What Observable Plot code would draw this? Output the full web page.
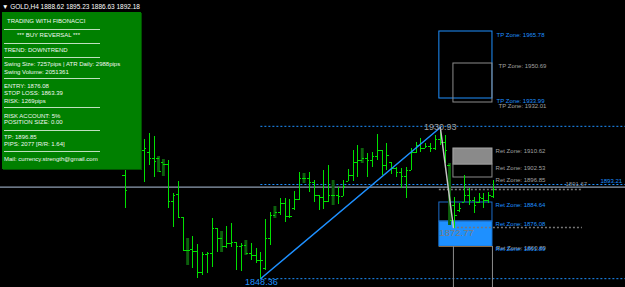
<!DOCTYPE html>
<html><head><meta charset="utf-8">
<script src="https://cdn.jsdelivr.net/npm/d3@7"></script>
<script src="https://cdn.jsdelivr.net/npm/@observablehq/plot@0.6"></script>
<style>
html,body{margin:0;padding:0;background:#000;}
#wrap{position:relative;width:625px;height:287px;overflow:hidden;background:#000;font-family:"Liberation Sans",Arial,sans-serif;}
#chart{position:absolute;left:0;top:0;}
.t{position:absolute;white-space:nowrap;font-size:6px;line-height:7px;color:#f2f8f2;transform:translateY(-50%);}
#panel{position:absolute;left:2px;top:12px;width:139px;height:157px;background:#008000;box-shadow:1px 1px 0 #005000;}
.sep{position:absolute;left:4px;width:96px;height:0;border-top:1px solid #bfe0bf;}
</style></head>
<body><div id="wrap"><div id="chart"></div></div>
<script>
// ---- data ----
const barIndex = [-4,0,1,2,3,4,5,6,7,8,9,10,11,12,13,14,15,16,17,18,19,20,21,22,23,24,25,26,27,28,29,30,31,32,33,34,35,36,37,38,39,40,41,42,43,44,45,46,47,48,49,50,51,52,53,54,55,56,57,58,59,60,61,62,63,64,65,66,67,68,69,70,71,72];
const highs = [1917.5,1923.55,1926.85,1925.2,1914.2,1912.55,1912,1893.85,1900.45,1880.65,1869.1,1870.2,1865.8,1861.4,1861.4,1880.1,1874.6,1872.95,1875.7,1877.35,1866.9,1866.35,1868,1866.35,1863.6,1861.4,1879.55,1883.4,1886.7,1891.1,1891.1,1890.55,1894.95,1905.4,1904.85,1905.4,1901,1892.75,1906.5,1909.25,1901,1897.15,1901,1907.05,1917.5,1920.25,1918.6,1915.85,1916.4,1926.3,1917.5,1921.35,1910.9,1908.15,1907.6,1908.15,1918.6,1921.9,1924.1,1921.35,1921.35,1925.75,1930.15,1925.75,1910.35,1891.65,1888.35,1903.75,1896.6,1891.65,1893.85,1893.85,1894.4,1901];
const lows = [1885.6,1899.9,1909.25,1902.65,1905.4,1903.2,1885.6,1875.15,1880.1,1862.5,1854.25,1852.6,1847.1,1848.75,1849.85,1853.15,1861.4,1861.4,1863.6,1864.15,1851.5,1850.95,1859.75,1857,1855.35,1847.1,1851.5,1865.25,1880.1,1881.75,1877.9,1880.1,1884.5,1890,1899.35,1894.4,1888.9,1884.5,1885.05,1888.9,1887.25,1887.8,1892.2,1900.45,1900.45,1902.65,1910.35,1902.65,1908.15,1912,1903.75,1906.5,1904.3,1902.65,1896.6,1891.1,1906.5,1915.85,1916.4,1918.6,1916.4,1917.5,1920.25,1910.35,1876.25,1874.6,1883.4,1888.9,1887.25,1882.85,1888.35,1885.6,1888.35,1891.1];
const opens = [1903.75,1917.5,1916.4,1913.1,1913.1,1910.9,1909.8,1889.45,1893.3,1880.65,1862.5,1863.05,1861.95,1850.4,1860.3,1860.85,1874.6,1869.1,1864.7,1866.35,1866.9,1864.7,1865.25,1860.85,1859.75,1857,1852.6,1869.1,1881.75,1883.4,1888.35,1881.2,1885.6,1890.55,1902.1,1902.1,1899.9,1892.75,1891.65,1889.45,1892.75,1892.75,1892.2,1900.45,1903.75,1910.9,1912,1913.1,1912,1914.2,1917.5,1909.25,1910.9,1907.6,1905.4,1903.2,1906.5,1916.4,1920.25,1918.6,1919.7,1918.6,1923.55,1921.9,1909.25,1887.25,1884.5,1888.9,1892.75,1890,1888.9,1891.1,1890,1892.2];
const closes = [1895.5,1918.6,1913.1,1911.45,1905.95,1909.8,1889.45,1892.75,1880.65,1862.5,1862.5,1861.95,1850.4,1860.3,1860.85,1874.6,1869.1,1864.7,1866.35,1866.9,1864.7,1865.25,1860.85,1859.75,1857,1857,1869.1,1881.75,1883.4,1888.35,1881.2,1881.2,1890.55,1902.1,1902.1,1899.9,1892.75,1891.65,1889.45,1892.75,1892.75,1892.2,1897.7,1903.75,1910.9,1912,1913.1,1912,1914.2,1917.5,1909.25,1914.75,1907.6,1905.4,1903.2,1906.5,1916.4,1920.25,1918.6,1919.7,1918.6,1923.55,1921.9,1917.5,1879,1881.75,1885.6,1892.75,1890,1887.25,1891.65,1890,1892.75,1896.05];
const darkBars = [3,4,9,16,21,27,33,39,45,63];

// fibonacci swing (bar index, price)
const fibX = [24, 61];
const fibY = [1847.1, 1930.15];
const retraceX = [61, 63.7];
const retraceY = [1930.15, 1875.15];

// zone boxes
const outlineBoxX1 = [60.8, 63.7, 63.7, 60.8];
const outlineBoxX2 = [71.75, 71.75, 71.75, 71.75];
const outlineBoxTop = [1982.95, 1965.35, 1909.8, 1888.9];
const outlineBoxBottom = [1946.1, 1943.9, 1902.65, 1878.45];
const outlineBoxColor = ["#1e90ff", "#8c8c8c", "#8c8c8c", "#1c6cc8"];
const filledBoxX1 = [63.7, 60.8];
const filledBoxX2 = [71.75, 71.75];
const filledBoxTop = [1918.6, 1878.45];
const filledBoxBottom = [1909.8, 1864.7];
const filledBoxFill = ["#8a8a8a", "#1e90ff"];
const filledBoxStroke = ["#a8a8a8", "#1a78d8"];

// zone labels
const zoneLabelText = ["TP Zone: 1965.78","TP Zone: 1933.99","TP Zone: 1950.69","TP Zone: 1932.01","Ret Zone: 1910.62","Ret Zone: 1902.53","Ret Zone: 1896.85","Ret Zone: 1860.89","Ret Zone: 1884.64","Ret Zone: 1876.08","Ret Zone: 1861.89"];
const zoneLabelX = [72.6,72.6,73.0,73.0,72.4,72.4,72.4,72.5,72.4,72.4,72.4];
const zoneLabelY = [1980.75,1944.45,1963.7,1941.7,1916.95,1907.6,1901,1863.6,1887.25,1876.8,1863.05];
const zoneLabelColor = ["#1e90ff","#1e90ff","#a0a0a0","#a0a0a0","#a0a0a0","#a0a0a0","#a0a0a0","#a0a0a0","#1e90ff","#1e90ff","#1e90ff"];

// horizontal levels
const blueLevels = [1930.8, 1898.8, 1847];
const bidLevel = 1897.4;
const grayDotLevels = [1896.05, 1875.15];
const grayDotX1 = [60.8, 63.7];
const grayDotX2 = [90.3, 90.3];

// price labels
const priceLabelText = ["1930.93","1848.36","1872.77"];
const priceLabelX = [61, 24.1, 60.8];
const priceLabelY = [1930.15, 1845.0, 1872.4];
const priceLabelColor = ["#a0a0a0","#1e90ff","#7c7c7c"];
const priceLabelAnchor = ["middle","middle","start"];
const edgeLabelText = ["1893.21","1891.67"];
const edgeLabelX = [94.0, 86.8];
const edgeLabelY = [1900.45, 1898.8];
const edgeLabelColor = ["#1e90ff","#909090"];

const headerText = "\u25BC GOLD,H4  1888.62 1895.23 1886.63 1892.18";
const panelLines = ["TRADING WITH FIBONACCI","*** BUY REVERSAL ***","TREND: DOWNTREND","Swing Size: 7257pips | ATR Daily: 2988pips","Swing Volume: 2051361","ENTRY: 1876.08","STOP LOSS: 1863.39","RISK: 1269pips","RISK ACCOUNT: 5%","POSITION SIZE: 0.00","TP: 1896.85","PIPS: 2077  [R/R: 1.64]","Mail: currency.strength@gmail.com"];

// ---- layout ----
const panelLineY = [21,35,50,64,72,86,93,101,116,122,137,144,159];
const panelLineLeft = [7,17,4,4,4,4,4,4,4,4,4,4,4];
const panelSepY = [29,43,57,78,107,130,151];

const bars = barIndex.map((i,k)=>({i, high:highs[k], low:lows[k], open:opens[k], close:closes[k], dark:darkBars.includes(i)}));
const outlineBoxes = outlineBoxX1.map((x1,k)=>({x1, x2:outlineBoxX2[k], y1:outlineBoxBottom[k], y2:outlineBoxTop[k], c:outlineBoxColor[k]}));
const filledBoxes = filledBoxX1.map((x1,k)=>({x1, x2:filledBoxX2[k], y1:filledBoxBottom[k], y2:filledBoxTop[k], f:filledBoxFill[k], s:filledBoxStroke[k]}));
const zoneLabels = zoneLabelText.map((t,k)=>({t, x:zoneLabelX[k], y:zoneLabelY[k], c:zoneLabelColor[k]}));
const priceLabels = priceLabelText.map((t,k)=>({t, x:priceLabelX[k], y:priceLabelY[k], c:priceLabelColor[k], a:priceLabelAnchor[k]}));
const edgeLabels = edgeLabelText.map((t,k)=>({t, x:edgeLabelX[k], y:edgeLabelY[k], c:edgeLabelColor[k]}));
const fib = fibX.map((x,k)=>({x, y:fibY[k]}));
const retrace = retraceX.map((x,k)=>({x, y:retraceY[k]}));
const grayDots = grayDotLevels.map((y,k)=>({y, x1:grayDotX1[k], x2:grayDotX2[k]}));

const XMIN = -29.69, XMAX = 99.18;
const GREEN = "#00e000";
const font = "'Liberation Sans', Arial, sans-serif";

const chart = Plot.plot({
  width: 625, height: 287, margin: 0,
  x: {domain: [XMIN, XMAX], axis: null},
  y: {domain: [1842.15, 2000], axis: null},
  style: {background: "#000", fontFamily: font, overflow: "visible"},
  marks: [
    Plot.rect(filledBoxes, {x1:"x1", x2:"x2", y1:"y1", y2:"y2", fill:"f", stroke:"s"}),
    Plot.rect(outlineBoxes, {x1:"x1", x2:"x2", y1:"y1", y2:"y2", fill:"none", stroke:"c"}),
    Plot.ruleY([bidLevel], {stroke:"#8e9eb2", strokeWidth:1.3}),
    Plot.ruleY(blueLevels, {x1: fibX[0], x2: XMAX, stroke:"#1e90ff", strokeDasharray:"2,2"}),
    Plot.ruleY(grayDots, {y:"y", x1:"x1", x2:"x2", stroke:"#777", strokeWidth:1.4, strokeDasharray:"2,2"}),
    Plot.ruleY([filledBoxBottom[1]], {x1: filledBoxX1[1], x2: filledBoxX2[1], stroke:"#8b6a45"}),
    Plot.ruleX([filledBoxX1[0], filledBoxX2[0]], {y1: filledBoxBottom[1], y2: 1842.15, stroke:"#8c8c8c"}),
    Plot.rect(bars.filter(d=>d.dark), {x1:d=>d.i-0.3, x2:d=>d.i+0.3, y1:"low", y2:"high", fill:"#0c600c"}),
    Plot.ruleX(bars.filter(d=>!d.dark), {x:"i", y1:"low", y2:"high", stroke:GREEN, shapeRendering:"crispEdges"}),
    Plot.ruleY(bars, {x1:d=>d.i-0.45, x2:"i", y:"open", stroke:GREEN, shapeRendering:"crispEdges"}),
    Plot.ruleY(bars, {x1:"i", x2:d=>d.i+0.45, y:"close", stroke:GREEN, shapeRendering:"crispEdges"}),
    Plot.line(fib, {x:"x", y:"y", stroke:"#1e90ff", strokeWidth:1.5}),
    Plot.line(retrace, {x:"x", y:"y", stroke:"#c4c4c4", strokeWidth:1.5}),
    Plot.text(zoneLabels, {x:"x", y:"y", text:"t", fill:"c", fontSize:6, textAnchor:"start"}),
    Plot.text(edgeLabels, {x:"x", y:"y", text:"t", fill:"c", fontSize:6, textAnchor:"start"}),
    Plot.text(priceLabels.filter(d=>d.a==="middle"), {x:"x", y:"y", text:"t", fill:"c", fontSize:9, textAnchor:"middle"}),
    Plot.text(priceLabels.filter(d=>d.a==="start"), {x:"x", y:"y", text:"t", fill:"c", fontSize:9.5, textAnchor:"start"})
  ]
});
document.getElementById("chart").appendChild(chart);

const wrap = document.getElementById("wrap");
const head = document.createElement("div");
head.className = "t"; head.style.left = "2px"; head.style.top = "6px"; head.style.color = "#fff"; head.style.fontSize = "6.5px";
head.textContent = headerText;
wrap.appendChild(head);
const panel = document.createElement("div");
panel.id = "panel";
wrap.appendChild(panel);
panelLines.forEach((s,k)=>{
  const d = document.createElement("div");
  d.className = "t"; d.textContent = s;
  d.style.left = panelLineLeft[k] + "px"; d.style.top = panelLineY[k] + "px";
  wrap.appendChild(d);
});
panelSepY.forEach(y=>{
  const d = document.createElement("div");
  d.className = "sep"; d.style.top = y + "px";
  wrap.appendChild(d);
});
</script>
</body></html>
